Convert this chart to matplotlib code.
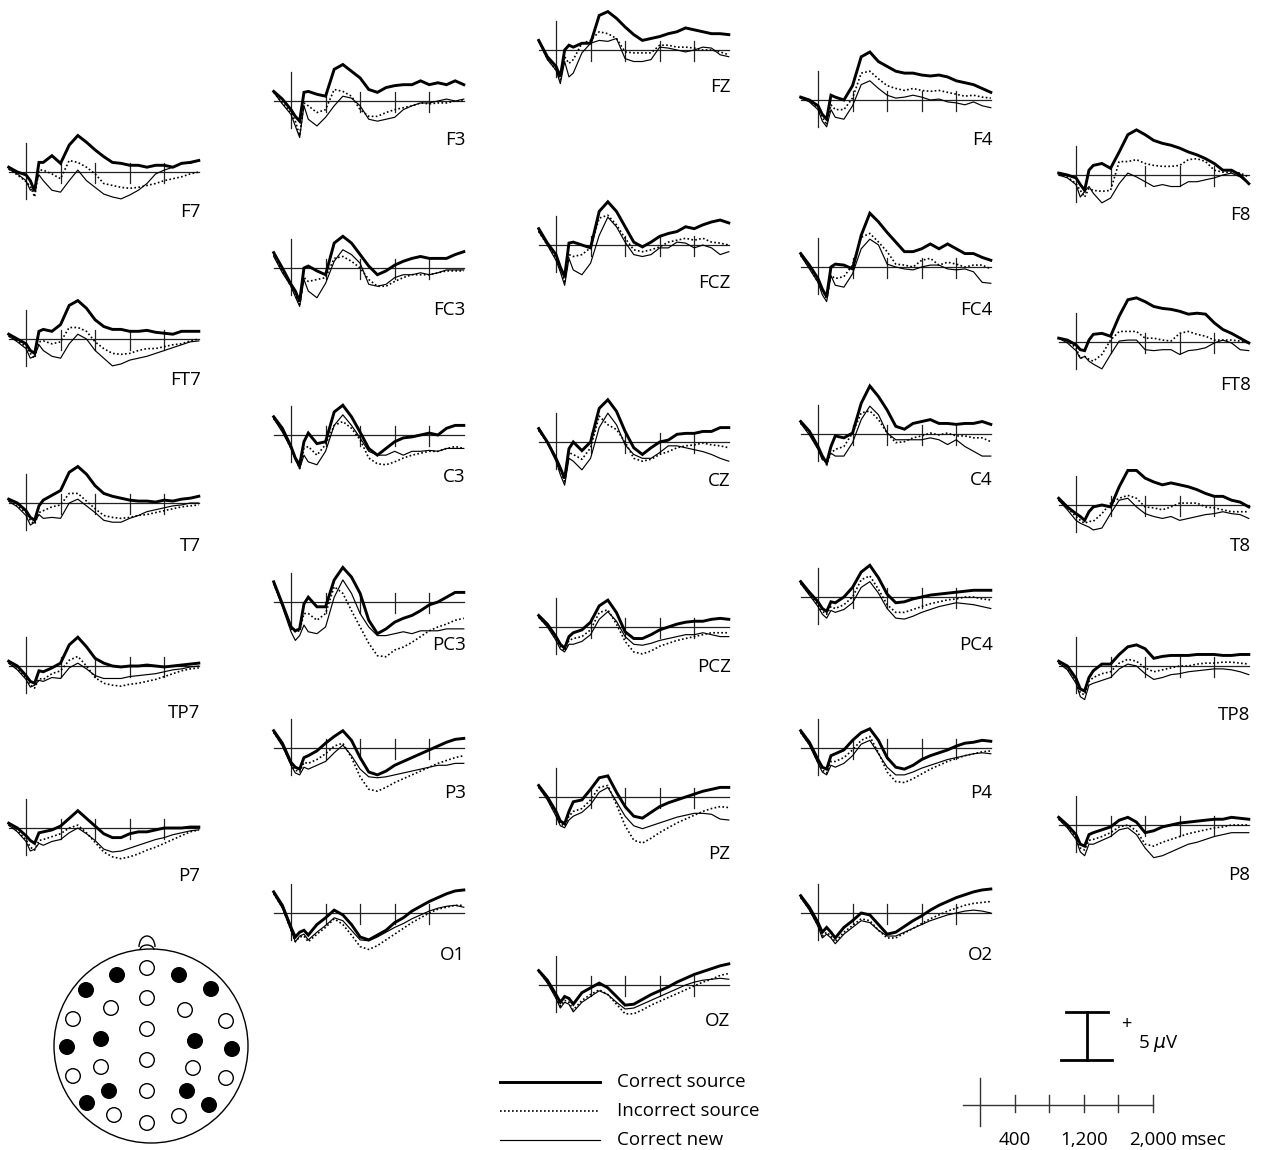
import matplotlib
matplotlib.use("Agg")
import matplotlib.pyplot as plt
from matplotlib.patches import Circle, Arc

plt.rcParams['font.family'] = ['Open Sans', 'DejaVu Sans']

# sample times (msec) shared by every waveform
times = [-200, -100, 0, 50, 100, 150, 200, 300, 400, 500, 600, 700, 800,
         900, 1000, 1100, 1200, 1300, 1400, 1500, 1600, 1700, 1800, 1900, 2000]

# amplitudes in microvolts: _src = correct source, _inc = incorrect source, _new = correct new
f7_src = [0.5, 0.0, -0.3, -0.9, -2.0, 1.0, 1.0, 1.7, 0.9, 2.8, 3.8, 3.1, 2.3, 1.6, 1.0, 0.9, 0.7, 0.7, 0.5, 0.7, 0.7, 0.5, 0.9, 1.0, 1.2]
f7_inc = [0.3, -0.3, -1.0, -1.5, -2.6, 0.2, 0.2, -0.2, -0.7, 1.2, 1.0, 0.5, -0.2, -1.2, -1.4, -1.6, -1.7, -1.6, -1.4, -1.2, -0.9, -0.7, -0.5, -0.2, 0.0]
f7_new = [0.3, -0.2, -0.9, -1.9, -1.6, -0.3, -0.9, -1.9, -2.1, -0.9, 0.2, -0.9, -1.6, -2.3, -2.6, -2.8, -2.4, -1.9, -1.2, -0.2, 0.2, 0.5, 0.9, 0.9, 1.2]

ft7_src = [0.5, 0.0, -0.5, -1.2, -1.5, 0.8, 1.0, 0.8, 1.5, 3.5, 4.0, 3.2, 2.0, 1.3, 1.0, 1.0, 0.8, 0.8, 0.9, 0.7, 0.6, 0.5, 0.8, 0.8, 0.8]
ft7_inc = [0.3, -0.2, -0.8, -1.5, -2.0, -0.3, -0.2, -0.5, -0.3, 1.2, 1.2, 0.8, -0.3, -1.0, -1.5, -1.6, -1.5, -1.2, -1.0, -1.0, -0.8, -0.6, -0.5, -0.2, 0.0]
ft7_new = [0.3, -0.3, -1.0, -2.0, -1.8, -0.6, -1.2, -1.8, -2.0, -0.5, 0.5, 0.0, -1.2, -2.0, -2.8, -2.6, -2.2, -2.0, -1.8, -1.5, -1.2, -0.9, -0.6, -0.3, -0.2]

t7_src = [0.4, 0.0, -0.8, -1.5, -1.8, -0.3, 0.3, 0.8, 1.3, 3.2, 3.8, 3.0, 1.8, 1.0, 0.7, 0.5, 0.3, 0.2, 0.2, 0.1, 0.3, 0.2, 0.4, 0.5, 0.7]
t7_inc = [0.2, -0.3, -1.0, -1.8, -2.2, -1.0, -0.8, -0.4, -0.2, 1.0, 1.0, 0.2, -0.6, -1.3, -1.5, -1.6, -1.5, -1.3, -1.2, -1.0, -0.8, -0.6, -0.4, -0.3, -0.2]
t7_new = [0.2, -0.4, -1.3, -2.3, -2.0, -1.2, -1.6, -1.5, -1.6, 0.0, 0.4, -0.3, -1.0, -1.8, -2.0, -2.0, -1.6, -1.3, -0.9, -0.7, -0.5, -0.3, -0.2, 0.0, 0.0]

tp7_src = [0.5, 0.0, -1.0, -1.6, -1.8, -0.5, -0.6, -0.2, 0.3, 2.2, 3.0, 2.0, 0.8, 0.3, 0.0, -0.1, 0.0, 0.0, 0.1, 0.0, -0.1, 0.0, 0.1, 0.2, 0.3]
tp7_inc = [0.3, -0.3, -1.2, -2.0, -2.3, -1.3, -1.4, -0.8, -0.5, 0.6, 1.0, 0.0, -1.2, -1.8, -2.0, -2.1, -1.9, -1.8, -1.6, -1.4, -1.1, -0.8, -0.5, -0.3, -0.2]
tp7_new = [0.3, -0.4, -1.4, -2.2, -2.0, -1.5, -1.6, -1.2, -1.3, -0.2, 0.3, -0.3, -1.0, -1.3, -1.3, -1.3, -1.1, -1.0, -0.9, -0.8, -0.6, -0.4, -0.3, -0.1, 0.0]

p7_src = [0.5, 0.0, -0.8, -1.3, -1.6, -0.5, -0.4, -0.2, 0.2, 1.0, 1.8, 1.0, 0.2, -0.6, -1.0, -1.0, -0.6, -0.4, -0.4, -0.2, 0.0, 0.0, 0.0, 0.1, 0.1]
p7_inc = [0.3, -0.3, -1.2, -2.0, -2.3, -1.3, -1.2, -0.9, -0.6, 0.0, 0.3, -0.5, -1.5, -2.5, -3.0, -3.2, -3.0, -2.7, -2.3, -2.0, -1.6, -1.2, -0.8, -0.4, -0.2]
p7_new = [0.3, -0.4, -1.4, -2.4, -2.2, -1.6, -1.8, -1.4, -1.2, -0.5, 0.0, -0.6, -1.3, -2.2, -2.5, -2.4, -2.1, -1.8, -1.5, -1.2, -1.0, -0.7, -0.5, -0.3, -0.2]

f3_src = [1.0, 0.2, -0.9, -1.6, -2.1, 0.9, 1.0, 0.7, 0.5, 3.3, 3.8, 3.1, 2.4, 1.2, 0.9, 1.4, 1.6, 1.7, 1.7, 2.1, 1.7, 1.9, 1.7, 2.1, 1.7]
f3_inc = [0.9, -0.2, -1.2, -2.1, -3.6, -0.2, -0.5, -1.2, -0.9, 1.2, 1.0, 0.5, -0.9, -1.6, -1.6, -1.2, -0.9, -0.7, -0.5, -0.2, -0.3, -0.2, -0.2, 0.0, 0.0]
f3_new = [0.9, -0.3, -1.4, -2.6, -3.8, -0.5, -1.9, -2.6, -1.7, -0.5, 0.5, 0.3, -0.5, -1.9, -2.1, -1.9, -1.7, -0.9, -0.5, -0.2, -0.2, 0.0, 0.2, 0.0, 0.2]

fc3_src = [1.6, 0.0, -1.7, -2.4, -3.5, 0.0, 0.2, -0.3, -0.7, 2.6, 3.3, 2.6, 1.4, 0.2, -0.7, -0.3, 0.3, 0.7, 1.0, 1.2, 1.0, 1.0, 1.0, 1.4, 1.7]
fc3_inc = [1.4, -0.3, -1.9, -2.8, -3.8, -1.0, -1.4, -1.2, -1.0, 1.0, 1.2, 0.7, 0.0, -1.2, -1.9, -1.9, -1.4, -1.0, -0.7, -0.7, -0.7, -0.5, -0.3, -0.3, -0.3]
fc3_new = [1.2, -0.5, -1.9, -3.0, -4.0, -1.2, -2.4, -3.1, -1.6, 0.7, 1.9, 1.4, 0.5, -1.7, -1.9, -1.7, -1.0, -0.7, -0.7, -0.5, -0.7, -0.5, -0.2, -0.2, -0.2]

c3_src = [1.9, 0.7, -1.2, -2.4, -3.1, -0.7, 0.2, -0.9, -0.7, 2.4, 3.1, 1.9, 0.3, -1.4, -2.1, -1.4, -0.7, -0.3, -0.2, 0.0, 0.2, 0.0, 0.7, 1.0, 1.0]
c3_inc = [1.7, 0.5, -1.4, -2.4, -3.5, -1.4, -1.2, -2.1, -1.0, 1.0, 1.4, 0.7, -0.5, -2.4, -3.0, -3.1, -2.8, -2.4, -2.1, -1.9, -1.7, -1.7, -1.4, -1.2, -1.4]
c3_new = [1.7, 0.3, -1.4, -2.6, -3.5, -2.1, -2.8, -3.1, -1.7, 1.0, 2.1, 1.0, -0.3, -1.7, -2.1, -2.1, -1.7, -2.1, -1.7, -1.7, -1.6, -1.7, -1.4, -1.4, -1.4]

pc3_src = [2.1, -0.2, -2.6, -3.0, -2.8, -0.2, 0.5, -0.5, -0.5, 2.3, 3.6, 2.6, 0.9, -1.9, -3.3, -2.8, -2.1, -1.7, -1.4, -0.9, -0.3, 0.0, 0.5, 1.0, 1.0]
pc3_inc = [1.9, -0.3, -2.8, -3.1, -3.0, -1.2, -1.2, -1.9, -1.2, 1.6, 0.9, -0.9, -2.6, -4.3, -5.6, -5.7, -5.0, -4.7, -4.2, -3.6, -3.0, -2.6, -2.3, -1.9, -1.7]
pc3_new = [1.9, -0.5, -3.1, -4.0, -3.5, -2.4, -3.1, -3.3, -2.6, 0.5, 2.3, 0.9, -1.2, -2.6, -3.5, -3.5, -3.3, -3.1, -3.3, -3.0, -3.0, -3.0, -2.8, -2.8, -2.8]

p3_src = [1.8, 0.5, -1.5, -2.0, -2.2, -1.0, -0.8, -0.3, 0.5, 1.2, 1.8, 0.8, -1.0, -2.5, -2.8, -2.4, -1.8, -1.4, -1.0, -0.6, -0.2, 0.2, 0.6, 0.9, 1.0]
p3_inc = [1.6, 0.3, -1.7, -2.3, -2.5, -1.5, -1.6, -1.2, -0.6, 0.2, 0.5, -1.0, -3.0, -4.3, -4.5, -4.1, -3.6, -3.2, -2.8, -2.4, -2.0, -1.6, -1.3, -1.0, -0.8]
p3_new = [1.6, 0.2, -1.8, -2.6, -2.8, -2.0, -2.2, -1.8, -1.4, -0.5, 0.3, -0.8, -2.2, -3.0, -3.1, -3.0, -2.8, -2.6, -2.4, -2.2, -2.0, -1.8, -1.8, -1.6, -1.6]

o1_src = [2.2, 0.8, -1.5, -2.5, -2.0, -1.8, -2.3, -1.2, -0.5, 0.3, -0.2, -1.2, -2.5, -2.8, -2.3, -1.8, -1.0, -0.5, 0.2, 0.7, 1.2, 1.6, 2.0, 2.3, 2.4]
o1_inc = [2.0, 0.6, -1.8, -3.0, -2.5, -2.4, -3.0, -2.2, -1.5, -0.6, -1.2, -2.3, -3.5, -3.8, -3.4, -2.8, -2.2, -1.6, -1.0, -0.5, 0.0, 0.4, 0.6, 0.8, 0.8]
o1_new = [2.0, 0.5, -1.8, -3.0, -2.4, -2.2, -2.8, -2.0, -1.3, -0.5, -0.8, -1.8, -2.8, -2.9, -2.5, -2.0, -1.5, -1.1, -0.6, -0.2, 0.2, 0.5, 0.7, 0.8, 0.6]

fz_src = [1.0, -0.7, -1.7, -2.8, 0.0, 0.5, 0.3, 0.7, 0.7, 3.6, 4.0, 3.3, 2.4, 1.6, 1.0, 1.2, 1.4, 1.7, 1.9, 2.3, 2.1, 1.9, 1.7, 1.7, 1.6]
fz_inc = [0.9, -0.9, -2.1, -3.1, -0.7, -1.4, -1.0, 0.7, 1.0, 1.9, 1.7, 1.2, -0.2, -0.3, -0.3, -0.3, 0.5, 0.5, 0.3, 0.3, 0.2, 0.0, 0.0, -0.2, -0.5]
fz_new = [0.9, -1.0, -2.1, -3.5, -1.2, -2.8, -2.4, -0.3, 0.7, 1.0, 0.9, 1.2, -0.9, -1.2, -1.2, -1.0, 0.3, 0.2, 0.0, -0.2, 0.0, 0.3, 0.2, -0.5, -0.7]

fcz_src = [1.7, 0.2, -1.0, -2.3, -3.3, 0.2, 0.3, 0.0, -0.3, 3.5, 4.5, 3.5, 1.9, 0.3, -0.2, 0.3, 0.9, 1.2, 1.4, 1.9, 1.7, 2.1, 2.4, 2.6, 2.3]
fcz_inc = [1.4, 0.0, -1.4, -2.4, -3.8, -1.0, -1.2, -1.0, -0.3, 2.8, 3.1, 2.1, 0.7, -0.5, -0.7, -0.5, -0.2, 0.3, 0.5, 0.7, 0.5, 0.7, 0.3, 0.2, 0.0]
fcz_new = [1.4, 0.0, -1.6, -2.8, -4.2, -1.4, -2.6, -3.1, -1.9, 1.0, 2.9, 1.9, 0.3, -1.0, -1.2, -1.0, -0.3, -0.3, 0.3, 0.2, -0.3, 0.0, -0.3, -1.0, -0.7]

cz_src = [1.4, 0.0, -1.7, -2.7, -3.8, -0.7, 0.0, -0.9, 0.0, 3.5, 4.4, 3.2, 1.1, -0.6, -1.3, -0.6, 0.0, 0.2, 0.8, 0.9, 0.9, 1.1, 1.1, 1.5, 1.5]
cz_inc = [1.2, -0.1, -1.8, -3.0, -4.1, -1.1, -1.3, -1.8, -0.6, 2.7, 1.8, 1.3, 0.0, -1.7, -2.0, -1.8, -1.3, -1.0, -0.6, -0.4, -0.3, -0.1, -0.3, -0.4, -0.6]
cz_new = [1.2, -0.1, -2.0, -3.4, -4.5, -1.7, -2.0, -2.9, -1.7, 1.5, 3.0, 1.8, -0.3, -1.3, -1.7, -1.7, -1.1, -0.4, -0.4, -0.6, -0.8, -1.0, -1.3, -1.7, -2.0]

pcz_src = [1.2, 0.3, -1.0, -1.8, -2.2, -1.0, -0.6, -0.3, 0.5, 2.2, 2.8, 1.5, -0.5, -1.2, -1.2, -0.8, -0.3, 0.0, 0.3, 0.5, 0.6, 0.6, 0.8, 0.9, 0.8]
pcz_inc = [1.0, 0.1, -1.2, -2.0, -2.5, -1.4, -1.2, -1.0, -0.3, 1.5, 1.8, 0.3, -1.5, -2.6, -2.8, -2.5, -2.0, -1.7, -1.4, -1.2, -1.0, -0.8, -0.6, -0.6, -0.6]
pcz_new = [1.0, 0.0, -1.4, -2.3, -2.6, -1.8, -1.8, -1.5, -0.8, 0.8, 1.6, 0.6, -1.0, -1.8, -1.9, -1.7, -1.4, -1.2, -1.0, -0.8, -0.8, -0.6, -0.8, -1.0, -1.0]

pz_src = [1.2, 0.0, -1.5, -2.5, -2.8, -1.5, -0.5, -0.3, 0.8, 2.0, 2.2, 0.5, -1.0, -2.0, -2.2, -1.6, -1.0, -0.6, -0.3, 0.0, 0.3, 0.6, 0.8, 1.0, 1.0]
pz_inc = [1.0, -0.2, -1.8, -2.8, -3.0, -2.0, -1.5, -1.2, -0.3, 1.0, 1.2, -0.8, -3.0, -4.5, -4.8, -4.3, -3.7, -3.2, -2.7, -2.3, -1.9, -1.5, -1.2, -1.0, -1.1]
pz_new = [1.0, -0.3, -2.0, -3.0, -3.2, -2.4, -2.0, -1.6, -0.8, 0.5, 1.0, -0.5, -2.0, -3.0, -3.3, -3.0, -2.7, -2.4, -2.1, -1.9, -1.7, -1.7, -1.8, -2.3, -2.4]

oz_src = [1.5, 0.5, -1.0, -1.8, -1.2, -1.4, -2.0, -0.8, -0.3, 0.2, -0.3, -1.2, -2.1, -2.0, -1.5, -1.0, -0.6, -0.2, 0.3, 0.7, 1.1, 1.4, 1.7, 2.0, 2.2]
oz_inc = [1.4, 0.3, -1.3, -2.2, -1.6, -1.8, -2.6, -1.6, -1.0, -0.5, -1.0, -2.0, -3.0, -3.0, -2.6, -2.1, -1.7, -1.3, -0.9, -0.5, -0.1, 0.3, 0.6, 1.0, 1.2]
oz_new = [1.4, 0.2, -1.4, -2.4, -1.8, -2.0, -2.8, -1.8, -1.2, -0.6, -1.0, -1.8, -2.5, -2.4, -2.0, -1.6, -1.2, -0.8, -0.4, 0.0, 0.3, 0.5, 0.6, 0.7, 0.6]

f4_src = [0.3, 0.0, -0.6, -1.5, -2.0, 0.5, 0.3, 0.0, 1.5, 4.5, 5.0, 4.0, 3.5, 3.0, 2.8, 2.8, 2.6, 2.5, 2.6, 2.4, 2.0, 1.8, 1.6, 1.2, 0.8]
f4_inc = [0.2, -0.1, -0.8, -1.8, -2.6, -0.5, -1.0, -1.0, 0.2, 2.8, 3.0, 2.2, 1.5, 1.2, 1.0, 1.2, 1.0, 0.9, 1.0, 0.8, 0.6, 0.4, 0.5, 0.3, 0.2]
f4_new = [0.2, -0.2, -1.0, -2.2, -2.8, -1.0, -1.8, -2.0, -0.6, 1.6, 2.0, 1.2, 0.5, 0.2, 0.3, 0.5, 0.3, 0.0, 0.1, -0.2, -0.3, -0.5, -0.2, -0.6, -0.8]

fc4_src = [1.4, 0.2, -1.2, -2.3, -3.1, 0.0, 0.3, 0.2, -0.2, 3.3, 5.6, 4.7, 3.6, 2.6, 1.6, 1.6, 1.9, 2.4, 1.9, 2.4, 1.9, 1.4, 1.4, 1.0, 0.7]
fc4_inc = [1.2, 0.0, -1.6, -2.4, -3.3, -0.9, -1.2, -1.0, 0.2, 3.1, 3.5, 2.6, 1.6, 0.3, 0.2, 0.0, 0.7, 0.9, 0.2, 0.5, 0.3, 0.0, 0.2, 0.2, -0.2]
fc4_new = [1.2, -0.2, -1.6, -2.9, -3.6, -0.9, -1.9, -2.1, -0.7, 1.9, 2.9, 2.3, 0.3, 0.0, -0.2, -0.3, 0.0, 0.2, 0.2, -0.2, -0.3, -0.2, -0.5, -1.6, -1.7]

c4_src = [1.3, 0.3, -1.3, -2.3, -3.0, -1.3, -0.2, -0.4, 0.1, 3.2, 5.0, 3.9, 2.5, 0.8, 0.5, 1.1, 1.3, 1.5, 1.1, 1.1, 1.0, 1.1, 1.1, 1.3, 1.0]
c4_inc = [1.1, 0.1, -1.5, -2.3, -3.2, -2.0, -1.6, -1.3, 0.1, 2.2, 2.4, 1.5, 0.1, -0.9, -0.8, -0.4, -0.2, 0.1, -0.1, 0.1, -0.2, -0.2, -0.4, -0.4, -0.8]
c4_new = [1.1, -0.1, -1.6, -2.7, -2.7, -2.0, -2.3, -2.3, -0.9, 1.5, 2.9, 2.0, 0.1, -0.6, -0.6, -0.6, -0.6, -0.4, -0.6, -1.1, -0.6, -1.3, -1.8, -2.3, -2.3]

pc4_src = [1.6, 0.5, -0.5, -1.2, -1.5, -0.5, -0.6, 0.0, 1.0, 2.6, 3.3, 2.0, 0.3, -0.6, -0.5, -0.2, 0.0, 0.2, 0.3, 0.4, 0.5, 0.6, 0.7, 0.7, 0.7]
pc4_inc = [1.4, 0.3, -0.8, -1.5, -1.8, -1.0, -1.2, -0.8, 0.0, 1.8, 2.2, 0.8, -0.8, -1.6, -1.6, -1.3, -1.0, -0.7, -0.5, -0.3, -0.2, 0.0, 0.0, -0.2, -0.3]
pc4_new = [1.4, 0.2, -1.0, -1.8, -2.2, -1.4, -1.6, -1.3, -0.6, 1.0, 1.6, 0.4, -1.2, -2.2, -2.3, -2.0, -1.6, -1.3, -1.0, -0.8, -0.6, -0.7, -0.8, -1.0, -1.2]

p4_src = [1.8, 0.6, -1.2, -2.0, -2.2, -0.8, -0.6, -0.2, 0.8, 1.6, 2.0, 0.8, -1.0, -2.0, -2.2, -1.8, -1.2, -0.8, -0.5, -0.2, 0.2, 0.5, 0.6, 0.8, 0.7]
p4_inc = [1.6, 0.4, -1.5, -2.3, -2.6, -1.4, -1.4, -1.0, -0.2, 0.8, 1.2, -0.5, -2.5, -3.5, -3.6, -3.2, -2.7, -2.2, -1.8, -1.4, -1.1, -0.8, -0.6, -0.4, -0.3]
p4_new = [1.6, 0.3, -1.6, -2.5, -2.8, -1.8, -2.0, -1.6, -0.8, 0.4, 0.8, -0.6, -2.0, -2.8, -2.8, -2.5, -2.1, -1.8, -1.5, -1.2, -1.0, -0.8, -0.6, -0.5, -0.6]

o2_src = [1.8, 0.6, -1.0, -2.0, -1.5, -2.0, -2.6, -1.5, -0.8, 0.0, -0.2, -1.2, -2.2, -2.0, -1.4, -0.8, -0.3, 0.3, 0.8, 1.2, 1.6, 1.9, 2.2, 2.4, 2.5]
o2_inc = [1.6, 0.4, -1.3, -2.4, -2.0, -2.4, -3.0, -2.0, -1.3, -0.6, -0.8, -1.8, -2.6, -2.6, -2.1, -1.6, -1.1, -0.6, -0.2, 0.2, 0.5, 0.8, 1.0, 1.1, 1.2]
o2_new = [1.6, 0.3, -1.4, -2.6, -2.2, -2.6, -3.2, -2.2, -1.5, -0.8, -1.0, -1.8, -2.4, -2.4, -2.0, -1.6, -1.2, -0.8, -0.5, -0.2, 0.0, 0.2, 0.3, 0.2, 0.0]

f8_src = [0.2, 0.0, -0.3, -1.0, -1.6, 0.5, 1.0, 1.2, 0.7, 2.4, 4.2, 4.7, 4.2, 3.6, 3.3, 3.1, 2.8, 2.4, 2.1, 1.7, 1.2, 0.5, 0.5, 0.0, -0.9]
f8_inc = [0.0, -0.2, -0.9, -1.6, -2.3, -1.4, -1.6, -1.7, -1.6, 1.4, 1.4, 1.6, 1.2, 1.0, 0.9, 0.9, 1.0, 1.6, 1.7, 1.4, 0.5, 0.3, 0.3, 0.2, -0.2]
f8_new = [0.0, -0.3, -1.0, -2.3, -1.7, -1.2, -1.9, -2.9, -2.4, -0.9, 0.2, -0.2, -0.7, -1.2, -1.0, -1.2, -1.2, -0.7, -0.7, -0.5, -0.3, 0.0, 0.2, -0.2, -0.9]

ft8_src = [0.4, 0.2, -0.3, -0.8, -0.9, 0.2, 0.8, 0.9, 0.6, 2.7, 4.4, 4.6, 4.2, 3.7, 3.5, 3.4, 3.2, 2.9, 3.0, 2.9, 2.0, 1.3, 0.9, 0.4, -0.1]
ft8_inc = [0.4, 0.1, -0.6, -1.7, -1.5, -1.8, -2.0, -1.3, 0.2, 1.1, 1.1, 1.1, 0.4, 0.4, 0.2, 0.1, 0.9, 1.1, 0.8, 0.6, 0.2, 0.2, 0.2, 0.1, -0.1]
ft8_new = [0.4, -0.1, -0.9, -1.7, -1.5, -2.0, -2.3, -2.8, -1.3, 0.1, 0.2, 0.2, -0.8, -0.9, -0.8, -0.8, -1.3, -0.9, -0.8, -0.6, -0.1, 0.2, -0.1, -0.8, -0.9]

t8_src = [0.7, -0.2, -0.9, -1.2, -1.6, -0.7, -0.2, 0.0, -0.2, 1.9, 3.6, 3.6, 2.8, 2.4, 2.1, 2.3, 2.1, 1.9, 1.6, 1.2, 0.9, 0.9, 0.5, 0.3, -0.2]
t8_inc = [0.5, -0.3, -1.2, -1.6, -1.9, -1.7, -1.7, -0.9, 0.2, 0.7, 1.0, 0.7, -0.2, -0.3, -0.5, -0.2, 0.2, 0.2, 0.2, -0.2, -0.3, -0.5, -0.7, -0.7, -0.7]
t8_new = [0.5, -0.5, -1.6, -1.9, -2.1, -2.3, -2.6, -2.4, -0.9, 0.5, 0.7, -0.2, -0.9, -1.2, -1.4, -1.2, -1.6, -1.4, -1.2, -1.0, -0.9, -0.7, -0.9, -1.0, -1.4]

tp8_src = [0.5, 0.0, -1.3, -2.4, -2.6, -1.2, -0.5, 0.2, 0.2, 1.2, 2.0, 2.2, 1.8, 0.8, 1.0, 1.1, 1.1, 1.1, 1.2, 1.2, 1.2, 1.1, 1.1, 1.2, 1.2]
tp8_inc = [0.3, -0.3, -1.6, -2.8, -3.0, -1.6, -1.2, -0.8, -0.6, 0.3, 0.7, 0.5, -0.2, -0.6, -0.4, -0.2, 0.0, 0.0, 0.2, 0.3, 0.3, 0.4, 0.4, 0.3, 0.2]
tp8_new = [0.3, -0.4, -1.8, -3.2, -3.5, -2.0, -1.8, -1.5, -1.2, -0.3, 0.2, 0.0, -0.8, -1.4, -1.2, -0.9, -0.8, -0.6, -0.5, -0.4, -0.3, -0.3, -0.4, -0.6, -0.9]

p8_src = [0.8, 0.0, -1.0, -2.0, -2.2, -1.0, -0.8, -0.5, -0.2, 0.5, 0.8, 0.3, -0.8, -0.6, -0.2, 0.0, 0.2, 0.3, 0.4, 0.5, 0.6, 0.6, 0.8, 0.7, 0.6]
p8_inc = [0.6, -0.2, -1.3, -2.4, -2.6, -1.6, -1.5, -1.2, -0.8, -0.2, 0.0, -0.6, -2.0, -2.2, -1.8, -1.5, -1.2, -0.9, -0.7, -0.5, -0.3, -0.2, 0.0, 0.0, 0.0]
p8_new = [0.6, -0.3, -1.5, -2.8, -3.2, -2.0, -2.0, -1.6, -1.2, -0.5, -0.3, -1.0, -2.4, -3.4, -3.2, -2.8, -2.4, -2.0, -1.8, -1.5, -1.2, -1.0, -0.8, -0.8, -0.8]

channels = {
    'F7': (f7_src, f7_inc, f7_new), 'FT7': (ft7_src, ft7_inc, ft7_new),
    'T7': (t7_src, t7_inc, t7_new), 'TP7': (tp7_src, tp7_inc, tp7_new),
    'P7': (p7_src, p7_inc, p7_new),
    'F3': (f3_src, f3_inc, f3_new), 'FC3': (fc3_src, fc3_inc, fc3_new),
    'C3': (c3_src, c3_inc, c3_new), 'PC3': (pc3_src, pc3_inc, pc3_new),
    'P3': (p3_src, p3_inc, p3_new), 'O1': (o1_src, o1_inc, o1_new),
    'FZ': (fz_src, fz_inc, fz_new), 'FCZ': (fcz_src, fcz_inc, fcz_new),
    'CZ': (cz_src, cz_inc, cz_new), 'PCZ': (pcz_src, pcz_inc, pcz_new),
    'PZ': (pz_src, pz_inc, pz_new), 'OZ': (oz_src, oz_inc, oz_new),
    'F4': (f4_src, f4_inc, f4_new), 'FC4': (fc4_src, fc4_inc, fc4_new),
    'C4': (c4_src, c4_inc, c4_new), 'PC4': (pc4_src, pc4_inc, pc4_new),
    'P4': (p4_src, p4_inc, p4_new), 'O2': (o2_src, o2_inc, o2_new),
    'F8': (f8_src, f8_inc, f8_new), 'FT8': (ft8_src, ft8_inc, ft8_new),
    'T8': (t8_src, t8_inc, t8_new), 'TP8': (tp8_src, tp8_inc, tp8_new),
    'P8': (p8_src, p8_inc, p8_new),
}

# where each panel sits on the page: onset x, baseline y, label y (pixels)
layout = {
    'F7': (26, 172, 212), 'FT7': (26, 339, 380), 'T7': (26, 503, 546),
    'TP7': (26, 666, 713), 'P7': (26, 828, 876),
    'F3': (291, 101, 140), 'FC3': (291, 268, 310), 'C3': (291, 435, 477),
    'PC3': (291, 602, 645), 'P3': (291, 748, 793), 'O1': (291, 913, 955),
    'FZ': (556, 50, 87), 'FCZ': (556, 245, 283), 'CZ': (556, 442, 481),
    'PCZ': (556, 627, 667), 'PZ': (556, 797, 854), 'OZ': (556, 985, 1021),
    'F4': (818, 100, 140), 'FC4': (818, 267, 310), 'C4': (818, 434, 480),
    'PC4': (818, 597, 645), 'P4': (818, 748, 793), 'O2': (818, 913, 955),
    'F8': (1076, 175, 215), 'FT8': (1076, 342, 385), 'T8': (1076, 505, 546),
    'TP8': (1076, 666, 715), 'P8': (1076, 825, 875),
}

# electrode map: x, y in pixels, filled or open
head_x = [147, 147, 147, 147, 147, 147,
          117, 86, 111, 73, 101, 67, 101, 73, 109, 87, 114,
          179, 211, 185, 226, 195, 232, 193, 226, 187, 209, 179]
head_y = [968, 998, 1029, 1060, 1091, 1123,
          975, 990, 1008, 1019, 1039, 1047, 1067, 1076, 1091, 1103, 1115,
          975, 989, 1010, 1021, 1041, 1049, 1068, 1078, 1091, 1105, 1116]
head_filled = [0, 0, 0, 0, 0, 0,
               1, 1, 0, 0, 1, 1, 0, 0, 1, 1, 0,
               1, 1, 0, 0, 1, 1, 0, 0, 1, 1, 0]

W, H = 1265, 1150
K = 0.0864   # px per msec
V = 9.6      # px per microvolt
T0, T1 = -230, 2060
V0, V1 = -7.0, 7.0
FS = 13.5

src_style = dict(color='black', lw=2.1, solid_joinstyle='miter')
inc_style = dict(color='black', lw=1.2, linestyle=(0, (1, 1.4)))
new_style = dict(color='black', lw=0.85)

fig = plt.figure(figsize=(W / 100, H / 100), dpi=100)


def add_px_axes(left, top, width, height):
    return fig.add_axes([left / W, 1 - (top + height) / H, width / W, height / H])


def draw_panel(name, x0, y0, ly):
    ax = add_px_axes(x0 + T0 * K, y0 - V1 * V, (T1 - T0) * K, (V1 - V0) * V)
    ax.set_xlim(T0, T1)
    ax.set_ylim(V0, V1)
    ax.axis('off')
    src, inc, new = channels[name]
    ax.plot([-200, 2000], [0, 0], color='#222222', lw=0.9)
    ax.plot([0, 0], [-2.8, 3.0], color='#222222', lw=0.9)
    for t in (400, 800, 1200, 1600):
        ax.plot([t, t], [-1.1, 0.9], color='#222222', lw=0.9)
    ax.plot(times, new, **new_style, clip_on=False)
    ax.plot(times, inc, **inc_style, clip_on=False)
    ax.plot(times, src, **src_style, clip_on=False)
    ax.text(2020, (y0 - ly) / V, name, ha='right', va='center', fontsize=FS)


for name, (x0, y0, ly) in layout.items():
    draw_panel(name, x0, y0, ly)

# page overlay in pixel units for head, legend and scale bars
page = fig.add_axes([0, 0, 1, 1])
page.set_xlim(0, W)
page.set_ylim(H, 0)
page.axis('off')

page.add_patch(Circle((151, 1046), 97, fill=False, ec='black', lw=1.0))
page.add_patch(Arc((147, 947), 16, 22, theta1=180, theta2=360, ec='black', lw=1.0))
page.add_patch(Arc((147, 950), 14, 10, theta1=180, theta2=360, ec='black', lw=1.0))
for x, y, f in zip(head_x, head_y, head_filled):
    page.add_patch(Circle((x, y), 7.3, fc='black' if f else 'white', ec='black', lw=1.0))

legend_rows = [('Correct source', src_style, 1082), ('Incorrect source', inc_style, 1111),
               ('Correct new', new_style, 1140)]
for label, style, y in legend_rows:
    page.plot([500, 600], [y, y], **style)
    page.text(617, y, label, ha='left', va='center', fontsize=FS)

# voltage calibration bar (5 microvolts)
vbar = add_px_axes(1040, 1000, 100, 70)
vbar.set_xlim(0, 100)
vbar.set_ylim(-10 / V, (70 - 10) / V)
vbar.axis('off')
vbar.plot([47, 47], [0, 5], color='black', lw=2.0)
vbar.plot([26, 68], [5, 5], color='black', lw=2.0)
vbar.plot([21, 72], [0, 0], color='black', lw=2.0)
page.text(1126, 1024, '+', ha='center', va='center', fontsize=13)
page.text(1138, 1043, r'5 $\mu$V', ha='left', va='center', fontsize=FS)

# time calibration bar
tbar = add_px_axes(980 + T0 * K, 1070, (T1 - T0) * K, 70)
tbar.set_xlim(T0, T1)
tbar.set_ylim(35, -35)
tbar.axis('off')
tbar.plot([-200, 2000], [0, 0], color='#333333', lw=1.0)
tbar.plot([0, 0], [-27, 21], color='#333333', lw=1.0)
for t in (400, 800, 1200, 1600, 2000):
    tbar.plot([t, t], [-10, 7], color='#333333', lw=1.0)
for t, lab in ((400, '400'), (1200, '1,200'), (2000, '2,000')):
    page.text(980 + t * K, 1140, lab, ha='center', va='center', fontsize=FS)
page.text(1180, 1140, 'msec', ha='left', va='center', fontsize=FS)

fig.savefig('out.png', dpi=100)
